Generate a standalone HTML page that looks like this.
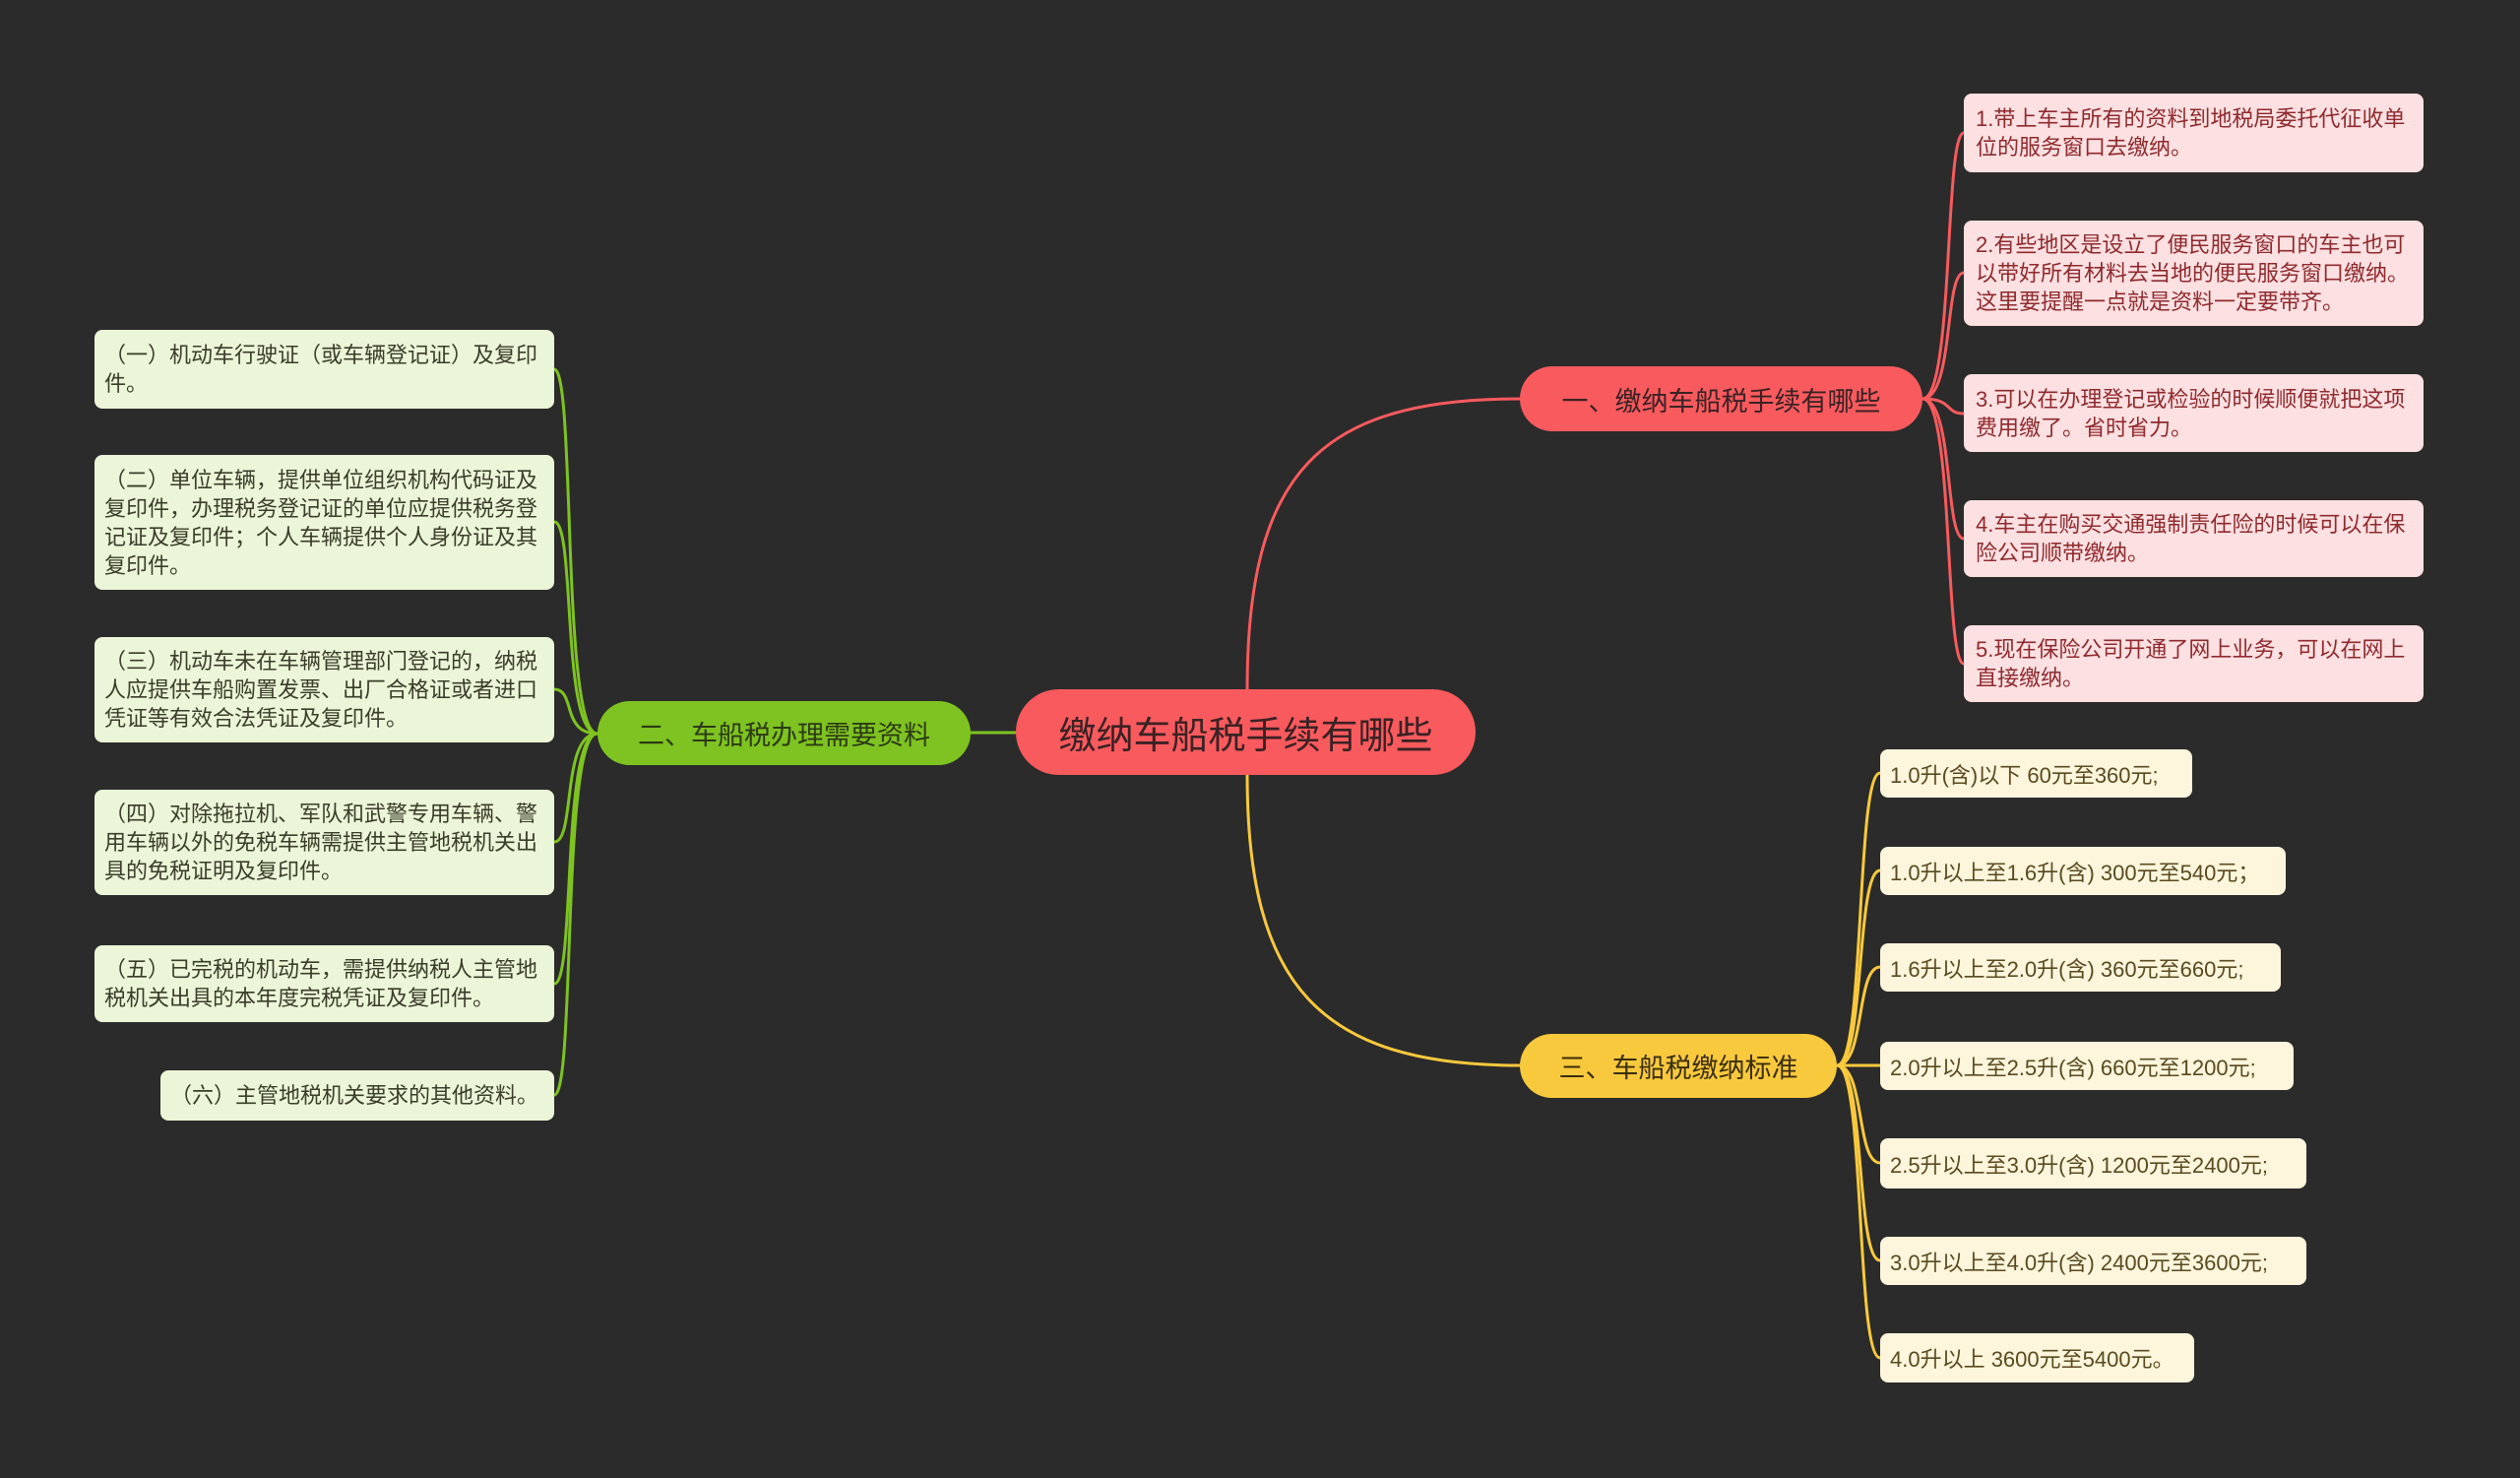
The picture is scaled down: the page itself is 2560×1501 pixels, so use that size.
<!DOCTYPE html>
<html><head><meta charset="utf-8"><style>
body{margin:0;width:2560px;height:1501px;background:#2b2b2b;overflow:hidden;position:relative;font-family:"Liberation Sans","Noto Sans CJK SC",sans-serif}
.n{position:absolute;box-sizing:border-box;display:flex;align-items:center}
.root{background:#f95a5e;color:#3a2224;font-size:38px;justify-content:center;border-radius:44px}
.b{font-size:27px;justify-content:center;border-radius:33px}
.r{background:#fde0e1;color:#8e2a2e;border-radius:8px;font-size:22px;line-height:29px;padding:0 14px 0 12px}
.g{background:#ebf5d7;color:#3a3d2a;border-radius:8px;font-size:22px;line-height:29px;padding:0 10px 0 10px}
.y{background:#fdf5dc;color:#5a4a1f;border-radius:8px;font-size:22px;padding:0 10px;white-space:nowrap}
svg{position:absolute;left:0;top:0}
</style></head><body>
<svg width="2560" height="1501" fill="none" stroke-width="3">
<path d="M1267 700 C1267 480 1340 405 1544 405" stroke="#f95a5e"/>
<path d="M1267 787 C1267 1000 1340 1082 1544 1082" stroke="#f9c93d"/>
<path d="M1032 744 L986 744" stroke="#7ec321"/>
<g stroke="#f95a5e">
<path d="M1953 405 C1985 405 1975 135 1995 135"/>
<path d="M1953 405 C1985 405 1975 277 1995 277"/>
<path d="M1953 405 C1985 405 1975 420 1995 420"/>
<path d="M1953 405 C1985 405 1975 547 1995 547"/>
<path d="M1953 405 C1985 405 1975 674 1995 674"/>
</g>
<g stroke="#7ec321">
<path d="M607 745 C570 745 585 375 563 375"/>
<path d="M607 745 C570 745 585 530 563 530"/>
<path d="M607 745 C570 745 585 700 563 700"/>
<path d="M607 745 C570 745 585 855 563 855"/>
<path d="M607 745 C570 745 585 999 563 999"/>
<path d="M607 745 C570 745 585 1112 563 1112"/>
</g>
<g stroke="#f9c93d">
<path d="M1866 1082 C1895 1082 1885 785 1910 785"/>
<path d="M1866 1082 C1895 1082 1885 884 1910 884"/>
<path d="M1866 1082 C1895 1082 1885 982 1910 982"/>
<path d="M1866 1082 L1910 1082"/>
<path d="M1866 1082 C1895 1082 1885 1181 1910 1181"/>
<path d="M1866 1082 C1895 1082 1885 1280 1910 1280"/>
<path d="M1866 1082 C1895 1082 1885 1379 1910 1379"/>
</g>
</svg>
<div class="n root" style="left:1032px;top:700px;width:467px;height:87px">缴纳车船税手续有哪些</div>
<div class="n b" style="left:1544px;top:372px;width:409px;height:66px;background:#f95a5e;color:#3a2224">一、缴纳车船税手续有哪些</div>
<div class="n b" style="left:607px;top:712px;width:379px;height:65px;background:#7ec321;color:#2c3a14">二、车船税办理需要资料</div>
<div class="n b" style="left:1544px;top:1050px;width:322px;height:65px;background:#f9c93d;color:#3a2e0c">三、车船税缴纳标准</div>

<div class="n r" style="left:1995px;top:95px;width:467px;height:80px">1.带上车主所有的资料到地税局委托代征收单位的服务窗口去缴纳。</div>
<div class="n r" style="left:1995px;top:224px;width:467px;height:107px">2.有些地区是设立了便民服务窗口的车主也可以带好所有材料去当地的便民服务窗口缴纳。这里要提醒一点就是资料一定要带齐。</div>
<div class="n r" style="left:1995px;top:380px;width:467px;height:79px">3.可以在办理登记或检验的时候顺便就把这项费用缴了。省时省力。</div>
<div class="n r" style="left:1995px;top:508px;width:467px;height:78px">4.车主在购买交通强制责任险的时候可以在保险公司顺带缴纳。</div>
<div class="n r" style="left:1995px;top:635px;width:467px;height:78px">5.现在保险公司开通了网上业务，可以在网上直接缴纳。</div>

<div class="n g" style="left:96px;top:335px;width:467px;height:80px">（一）机动车行驶证（或车辆登记证）及复印件。</div>
<div class="n g" style="left:96px;top:462px;width:467px;height:137px">（二）单位车辆，提供单位组织机构代码证及复印件，办理税务登记证的单位应提供税务登记证及复印件；个人车辆提供个人身份证及其复印件。</div>
<div class="n g" style="left:96px;top:647px;width:467px;height:107px">（三）机动车未在车辆管理部门登记的，纳税人应提供车船购置发票、出厂合格证或者进口凭证等有效合法凭证及复印件。</div>
<div class="n g" style="left:96px;top:802px;width:467px;height:107px">（四）对除拖拉机、军队和武警专用车辆、警用车辆以外的免税车辆需提供主管地税机关出具的免税证明及复印件。</div>
<div class="n g" style="left:96px;top:960px;width:467px;height:78px">（五）已完税的机动车，需提供纳税人主管地税机关出具的本年度完税凭证及复印件。</div>
<div class="n g" style="left:163px;top:1087px;width:400px;height:51px">（六）主管地税机关要求的其他资料。</div>

<div class="n y" style="left:1910px;top:761px;width:317px;height:49px">1.0升(含)以下 60元至360元;</div>
<div class="n y" style="left:1910px;top:860px;width:412px;height:49px">1.0升以上至1.6升(含) 300元至540元；</div>
<div class="n y" style="left:1910px;top:958px;width:407px;height:49px">1.6升以上至2.0升(含) 360元至660元;</div>
<div class="n y" style="left:1910px;top:1058px;width:420px;height:49px">2.0升以上至2.5升(含) 660元至1200元;</div>
<div class="n y" style="left:1910px;top:1156px;width:433px;height:51px">2.5升以上至3.0升(含) 1200元至2400元;</div>
<div class="n y" style="left:1910px;top:1256px;width:433px;height:49px">3.0升以上至4.0升(含) 2400元至3600元;</div>
<div class="n y" style="left:1910px;top:1354px;width:319px;height:50px">4.0升以上 3600元至5400元。</div>
</body></html>
